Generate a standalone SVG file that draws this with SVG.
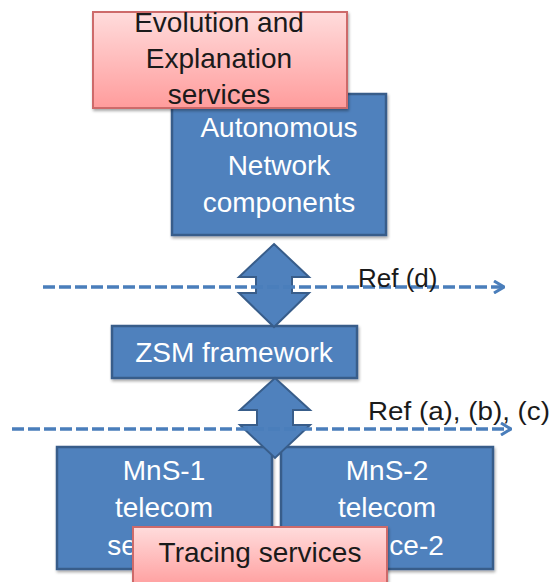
<svg xmlns="http://www.w3.org/2000/svg" width="553" height="582" viewBox="0 0 553 582">
  <defs>
    <linearGradient id="pinkFill" x1="0" y1="0" x2="0" y2="1">
      <stop offset="0" stop-color="#FFDCDC"/>
      <stop offset="1" stop-color="#FF9C9C"/>
    </linearGradient>
    <filter id="shadow" x="-10%" y="-10%" width="125%" height="130%">
      <feGaussianBlur in="SourceAlpha" stdDeviation="1.5"/>
      <feOffset dx="1" dy="2" result="b"/>
      <feComponentTransfer><feFuncA type="linear" slope="0.35"/></feComponentTransfer>
      <feMerge><feMergeNode/><feMergeNode in="SourceGraphic"/></feMerge>
    </filter>
    <marker id="chevron" viewBox="0 0 12 14" refX="11" refY="7" markerWidth="12" markerHeight="14" markerUnits="userSpaceOnUse" orient="auto">
      <polyline points="1,1 11,7 1,13" fill="none" stroke="#4A7EBB" stroke-width="3"/>
    </marker>
  </defs>
  <style>
    .blue { fill: #4F81BD; stroke: #385D8A; stroke-width: 2.5; }
    .pink { fill: url(#pinkFill); stroke: #CD6A6A; stroke-width: 2; }
    .wt { font-family: "Liberation Sans", Arial, sans-serif; font-size: 28px; fill: #FFFFFF; text-anchor: middle; }
    .bk { font-family: "Liberation Sans", Arial, sans-serif; font-size: 28px; fill: #1A1A1A; text-anchor: middle; }
    .ref { font-family: "Liberation Sans", Arial, sans-serif; font-size: 26px; fill: #1A1A1A; }
    .dash { fill: none; stroke: #4A7EBB; stroke-width: 3.5; stroke-dasharray: 12 4; }
    .dbl { fill: #4F81BD; stroke: #385D8A; stroke-width: 2; }
  </style>

  <!-- Autonomous network components -->
  <g id="autonomous">
    <rect class="blue" x="172" y="94" width="214" height="141" filter="url(#shadow)"/>
    <text class="wt" x="279" y="137">Autonomous</text>
    <text class="wt" x="279" y="175">Network</text>
    <text class="wt" x="279" y="212">components</text>
  </g>

  <!-- Evolution and explanation services (overlaps the box below) -->
  <g id="evolution">
    <rect class="pink" x="93" y="12" width="254" height="96" filter="url(#shadow)"/>
    <text class="bk" x="219" y="32">Evolution and</text>
    <text class="bk" x="219" y="68">Explanation</text>
    <text class="bk" x="219" y="104">services</text>
  </g>

  <!-- ZSM framework -->
  <g id="zsm">
    <rect class="blue" x="112" y="326" width="245" height="52" filter="url(#shadow)"/>
    <text class="wt" x="234" y="362">ZSM framework</text>
  </g>

  <!-- Management services -->
  <g id="mns1">
    <rect class="blue" x="57" y="447" width="215" height="122" filter="url(#shadow)"/>
    <text class="wt" x="164" y="480">MnS-1</text>
    <text class="wt" x="164" y="517">telecom</text>
    <text class="wt" x="164" y="555">service-1</text>
  </g>
  <g id="mns2">
    <rect class="blue" x="281" y="447" width="212" height="122" filter="url(#shadow)"/>
    <text class="wt" x="387" y="480">MnS-2</text>
    <text class="wt" x="387" y="517">telecom</text>
    <text class="wt" x="387" y="555">service-2</text>
  </g>

  <!-- Tracing services -->
  <g id="tracing">
    <rect class="pink" x="133" y="527" width="254" height="62" filter="url(#shadow)"/>
    <text class="bk" x="260" y="562">Tracing services</text>
  </g>

  <!-- Connectors: block double arrows and reference-point lines -->
  <g id="connectors">
    <polygon class="dbl" points="274,244 309,277 292,277 292,293 309,293 274,327 239,293 256,293 256,277 239,277"/>
    <polygon class="dbl" points="275,378 310,410 293,410 293,425 310,425 275,458 240,425 257,425 257,410 240,410"/>
    <line class="dash" x1="43" y1="287" x2="504" y2="287" marker-end="url(#chevron)"/>
    <line class="dash" x1="12" y1="429" x2="511" y2="429" marker-end="url(#chevron)"/>
    <text class="ref" x="358" y="287">Ref (d)</text>
    <text class="ref" x="368" y="420" textLength="182" lengthAdjust="spacingAndGlyphs">Ref (a), (b), (c)</text>
  </g>
</svg>
